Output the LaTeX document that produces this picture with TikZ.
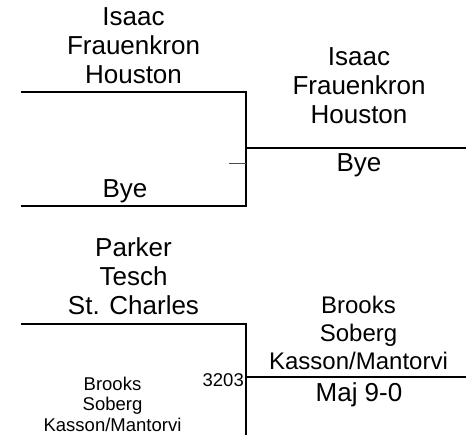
\documentclass[tikz,border=0pt]{standalone}
\usepackage{fontspec}
\setmainfont{Liberation Sans}
\begin{document}
\begin{tikzpicture}[x=1pt,y=-1pt,
  wire/.style={line width=2.2pt},
  tickline/.style={line width=1.4pt, draw=black!70},
  big/.style={font=\fontsize{26}{29}\selectfont, align=center, inner sep=0pt, anchor=base},
  mid/.style={font=\fontsize{24}{28}\selectfont, align=center, inner sep=0pt, anchor=base},
  small/.style={font=\fontsize{18.5}{20.5}\selectfont, align=center, inner sep=0pt, anchor=base}]
\useasboundingbox (0,0) rectangle (466,435);
% top bracket
\coordinate (a1) at (21,92);
\coordinate (a2) at (246,92);
\coordinate (a3) at (246,206);
\coordinate (a4) at (21,206);
\coordinate (am) at (246,148);
\coordinate (ar) at (466,148);
\coordinate (t1) at (229,163.5);
\coordinate (t2) at (246,163.5);
\draw[wire] (a1) -- (a2) -- (a3) -- (a4);
\draw[wire] (am) -- (ar);
\draw[tickline] (t1) -- (t2);
% bottom bracket
\coordinate (b1) at (21,324);
\coordinate (b2) at (246,324);
\coordinate (b3) at (246,435);
\coordinate (bm) at (246,377);
\coordinate (br) at (466,377);
\draw[wire] (b1) -- (b2) -- (b3);
\draw[wire] (bm) -- (br);
% labels (anchor = baseline of the last line)
\node[big] (p1) at (133.5,83.5) {Isaac\\Frauenkron\\Houston};
\node[big] (p2) at (125,198) {Bye};
\node[big] (w1) at (359,124) {Isaac\\Frauenkron\\Houston};
\node[big] (s1) at (359,172) {Bye};
\node[big] (p3) at (133.5,315) {Parker\\Tesch\\St. Charles};
\node[small] (p4) at (112.5,431.5) {Brooks\\Soberg\\Kasson/Mantorvi};
\node[small, anchor=base east] (g1) at (244,387) {3203};
\node[mid] (w2) at (358.5,370) {Brooks\\Soberg\\Kasson/Mantorvi};
\node[big] (s2) at (359,402) {Maj 9-0};
\end{tikzpicture}
\end{document}
